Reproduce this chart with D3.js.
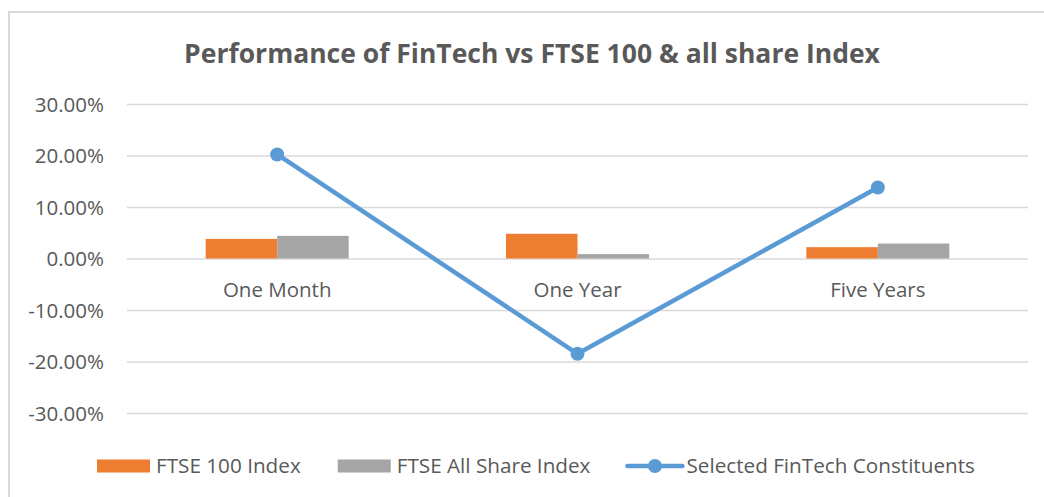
<!DOCTYPE html>
<html>
<head>
<meta charset="utf-8">
<script src="https://cdn.jsdelivr.net/npm/d3@7"></script>
<style>
  body { margin: 0; background: #fff; }
  text { font-family: "Open Sans", "Noto Sans", sans-serif; fill: #595959; }
</style>
</head>
<body>
<svg id="chart"></svg>
<script>
let orange = "#ED7D31";
let grey = "#A5A5A5";
let blue = "#5B9BD5";
let gridColor = "#D9D9D9";

const categories = ["One Month", "One Year", "Five Years"];
const ftse100 = [0.038, 0.048, 0.022];
const ftseAllShare = [0.044, 0.0085, 0.029];
const fintech = [0.202, -0.185, 0.138];
const yTicks = [-0.3, -0.2, -0.1, 0, 0.1, 0.2, 0.3];
const seriesNames = ["FTSE 100 Index", "FTSE All Share Index", "Selected FinTech Constituents"];

const width = 1044;
const height = 497;

const margin = { top: 104, right: 16, bottom: 84, left: 127 };

const svg = d3.select("#chart")
  .attr("width", width)
  .attr("height", height);

// chart frame
svg.append("rect")
  .attr("x", 9)
  .attr("y", 12)
  .attr("width", width)
  .attr("height", height)
  .attr("fill", "none")
  .attr("stroke", gridColor)
  .attr("stroke-width", 2);

// title
svg.append("text")
  .attr("x", 532)
  .attr("y", 63)
  .attr("text-anchor", "middle")
  .style("font-size", "26.5px")
  .style("font-weight", "bold")
  .text("Performance of FinTech vs FTSE 100 & all share Index");

const x0 = d3.scaleBand()
  .domain(categories)
  .range([margin.left, width - margin.right])
  .padding(0);

const groupWidth = x0.bandwidth() * 0.476;

const x1 = d3.scaleBand()
  .domain([0, 1])
  .range([-groupWidth / 2, groupWidth / 2])
  .padding(0);

const y = d3.scaleLinear()
  .domain([-0.3, 0.3])
  .range([height - margin.bottom, margin.top]);

//y grid + labels
const yAxis = svg.append("g")
  .attr("class", "yaxis")
  .attr("transform", `translate(${margin.left}, 0)`)
  .call(d3.axisLeft(y)
    .tickValues(yTicks)
    .tickFormat(d => (d * 100).toFixed(2) + "%")
    .tickSize(-(width - margin.left - margin.right))
    .tickPadding(23));

yAxis.select(".domain").remove();
yAxis.selectAll(".tick line")
  .attr("stroke", gridColor)
  .attr("stroke-width", 1.5);
yAxis.selectAll(".tick text")
  .attr("fill", "#595959")
  .attr("dy", "0.35em")
  .style("font-family", "'Open Sans', sans-serif")
  .style("font-size", "20.5px");

//bars
const barData = categories.flatMap((c, i) => [
  { cat: c, s: 0, value: ftse100[i], color: orange },
  { cat: c, s: 1, value: ftseAllShare[i], color: grey }
]);

svg.selectAll(".bar")
  .data(barData)
  .enter()
  .append("rect")
  .attr("class", "bar")
  .attr("x", d => x0(d.cat) + x0.bandwidth() / 2 + x1(d.s))
  .attr("width", x1.bandwidth())
  .attr("y", d => y(Math.max(0, d.value)))
  .attr("height", d => Math.abs(y(d.value) - y(0)))
  .attr("fill", d => d.color);

//category labels
svg.selectAll(".cat")
  .data(categories)
  .enter()
  .append("text")
  .attr("class", "cat")
  .attr("x", d => x0(d) + x0.bandwidth() / 2)
  .attr("y", y(0) + 38.5)
  .attr("text-anchor", "middle")
  .style("font-size", "20.5px")
  .text(d => d);

//fintech line
const lineData = categories.map((c, i) => ({ cat: c, value: fintech[i] }));

svg.append("path")
  .datum(lineData)
  .attr("fill", "none")
  .attr("stroke", blue)
  .attr("stroke-width", 4.5)
  .attr("stroke-linejoin", "round")
  .attr("d", d3.line()
    .x(d => x0(d.cat) + x0.bandwidth() / 2)
    .y(d => y(d.value)));

svg.selectAll(".pt")
  .data(lineData)
  .enter()
  .append("circle")
  .attr("class", "pt")
  .attr("cx", d => x0(d.cat) + x0.bandwidth() / 2)
  .attr("cy", d => y(d.value))
  .attr("r", 7)
  .attr("fill", blue);

//legend
const legend = svg.append("g").attr("transform", "translate(97, 0)");
const legendY = 466;
const swatchW = 53;
let lx = 0;

seriesNames.forEach((name, i) => {
  const item = legend.append("g").attr("transform", `translate(${lx}, 0)`);
  if (i < 2) {
    item.append("rect")
      .attr("x", 0)
      .attr("y", legendY - 6.5)
      .attr("width", swatchW)
      .attr("height", 13)
      .attr("fill", i === 0 ? orange : grey);
  } else {
    item.append("line")
      .attr("x1", 0).attr("x2", swatchW + 2)
      .attr("y1", legendY).attr("y2", legendY)
      .attr("stroke", blue)
      .attr("stroke-width", 4.5)
      .attr("stroke-linecap", "round");
    item.append("circle")
      .attr("cx", (swatchW + 2) / 2)
      .attr("cy", legendY)
      .attr("r", 7)
      .attr("fill", blue);
  }
  const t = item.append("text")
    .attr("x", swatchW + 6)
    .attr("y", legendY + 7)
    .style("font-size", "20.7px")
    .text(name);
  lx += swatchW + 6 + t.node().getComputedTextLength() + 37;
});
</script>
</body>
</html>
